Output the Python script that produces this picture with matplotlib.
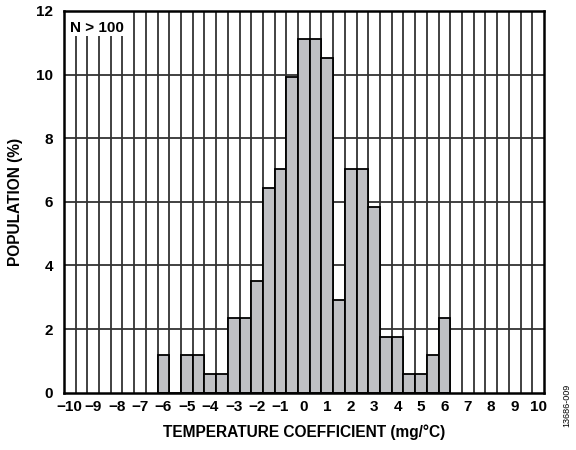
import matplotlib
matplotlib.use("Agg")
import matplotlib.pyplot as plt
from matplotlib.patches import Rectangle
import numpy as np

plt.rcParams['font.family'] = ['Liberation Sans', 'DejaVu Sans']

# bin centres (mg/°C) and population (%)
bin_centers = [-6.0, -5.5, -5.0, -4.5, -4.0, -3.5, -3.0, -2.5, -2.0, -1.5, -1.0,
               -0.5, 0.0, 0.5, 1.0, 1.5, 2.0, 2.5, 3.0, 3.5, 4.0, 4.5, 5.0, 5.5, 6.0]
population = [1.17, 0.0, 1.17, 1.17, 0.58, 0.58, 2.34, 2.34, 3.51, 6.43, 7.02,
              9.94, 11.11, 11.11, 10.53, 2.92, 7.02, 7.02, 5.85, 1.75, 1.75,
              0.58, 0.58, 1.17, 2.34]
x_ticks = list(range(-10, 11))
y_ticks = [0, 2, 4, 6, 8, 10, 12]
bin_width = 0.5

fig = plt.figure(figsize=(5.76, 4.5), dpi=100)
ax = fig.add_axes([0.111, 0.1273, 0.8333, 0.8483])

ax.set_xlim(-10.25, 10.25)
ax.set_ylim(0, 12)

# grid
edges = np.arange(-10.25, 10.26, 0.5)
for e in edges[1:-1]:
    ax.axvline(e, color='#333333', lw=1.3, zorder=1)
for yv in y_ticks[1:-1]:
    ax.axhline(yv, color='#333333', lw=1.3, zorder=1)

ax.bar(bin_centers, population, width=bin_width, color='#bfc0c4',
       edgecolor='black', linewidth=1.3, zorder=2)

ax.set_xticks(x_ticks)
ax.set_yticks(y_ticks)
ax.tick_params(length=0, labelsize=11)
ax.tick_params(axis='x', pad=5)
ax.tick_params(axis='y', pad=8)
for lbl in ax.get_xticklabels() + ax.get_yticklabels():
    lbl.set_fontweight('bold')

for s in ax.spines.values():
    s.set_linewidth(1.8)
    s.set_color('black')
    s.set_zorder(5)

ax.set_xlabel('TEMPERATURE COEFFICIENT (mg/°C)', fontsize=11.2, fontweight='bold', labelpad=8)
ax.set_ylabel('POPULATION (%)', fontsize=11.2, fontweight='bold', labelpad=9)

# white box behind the annotation
ax.add_patch(Rectangle((-10.25, 11.2), 2.85, 0.8, facecolor='white',
                       edgecolor='none', zorder=3))
ax.text(0.012, 0.975, 'N > 100', transform=ax.transAxes, fontsize=11,
        fontweight='bold', va='top', ha='left', zorder=4)

fig.text(0.984, 0.10, '13686-009', rotation=90, fontsize=6.5, ha='center', va='center')

fig.savefig('out.png', dpi=100)
